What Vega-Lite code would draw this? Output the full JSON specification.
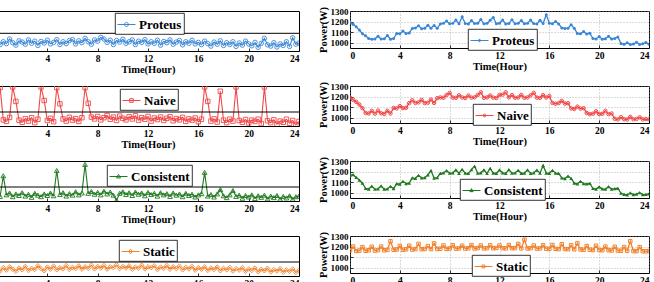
{
  "$schema": "https://vega.github.io/schema/vega-lite/v6.json",
  "padding": {"left": -4, "top": 5, "right": 0, "bottom": 0},
  "background": "white",
  "data": {"values": [
    {"t":0,"pr":1195,"nr":1190,"cr":1165,"sr":1165,"pl":1240,"nl":1150,"cl":1120,"sl":1130},
    {"t":0.25,"pr":1175,"nr":1170,"cr":1170,"sr":1200,"pl":1110,"nl":2150,"cl":1050,"sl":1060},
    {"t":0.5,"pr":1150,"nr":1150,"cr":1145,"sr":1158,"pl":1200,"nl":1100,"cl":1720,"sl":1170},
    {"t":0.75,"pr":1120,"nr":1125,"cr":1120,"sr":1162,"pl":1140,"nl":1050,"cl":1100,"sl":1090},
    {"t":1,"pr":1085,"nr":1090,"cr":1090,"sr":1195,"pl":1290,"nl":1180,"cl":1160,"sl":1200},
    {"t":1.25,"pr":1065,"nr":1045,"cr":1040,"sr":1160,"pl":1170,"nl":2170,"cl":1040,"sl":1120},
    {"t":1.5,"pr":1040,"nr":1040,"cr":1035,"sr":1165,"pl":1090,"nl":1700,"cl":1130,"sl":1050},
    {"t":1.75,"pr":1032,"nr":1065,"cr":1062,"sr":1198,"pl":1230,"nl":1090,"cl":1080,"sl":1160},
    {"t":2,"pr":1036,"nr":1038,"cr":1034,"sr":1162,"pl":1190,"nl":1020,"cl":1170,"sl":1100},
    {"t":2.25,"pr":1062,"nr":1068,"cr":1037,"sr":1166,"pl":1120,"nl":1140,"cl":1060,"sl":1210},
    {"t":2.5,"pr":1034,"nr":1042,"cr":1065,"sr":1200,"pl":1260,"nl":1060,"cl":1120,"sl":1080},
    {"t":2.75,"pr":1038,"nr":1036,"cr":1033,"sr":1165,"pl":1150,"nl":1170,"cl":1020,"sl":1150},
    {"t":3,"pr":1068,"nr":1066,"cr":1036,"sr":1168,"pl":1220,"nl":1010,"cl":1150,"sl":1110},
    {"t":3.25,"pr":1033,"nr":1040,"cr":1060,"sr":1250,"pl":1080,"nl":1120,"cl":1090,"sl":1230},
    {"t":3.5,"pr":1040,"nr":1092,"cr":1038,"sr":1170,"pl":1210,"nl":2170,"cl":1040,"sl":1140},
    {"t":3.75,"pr":1088,"nr":1088,"cr":1085,"sr":1172,"pl":1160,"nl":1730,"cl":1130,"sl":1070},
    {"t":4,"pr":1085,"nr":1110,"cr":1082,"sr":1205,"pl":1250,"nl":1080,"cl":1080,"sl":1190},
    {"t":4.25,"pr":1110,"nr":1090,"cr":1108,"sr":1170,"pl":1130,"nl":1150,"cl":1160,"sl":1120},
    {"t":4.5,"pr":1087,"nr":1094,"cr":1086,"sr":1174,"pl":1180,"nl":1040,"cl":1070,"sl":1220},
    {"t":4.75,"pr":1092,"nr":1138,"cr":1090,"sr":1208,"pl":1270,"nl":2150,"cl":1890,"sl":1100},
    {"t":5,"pr":1135,"nr":1165,"cr":1140,"sr":1172,"pl":1110,"nl":1620,"cl":1110,"sl":1170},
    {"t":5.25,"pr":1140,"nr":1140,"cr":1136,"sr":1176,"pl":1200,"nl":1130,"cl":1170,"sl":1130},
    {"t":5.5,"pr":1160,"nr":1145,"cr":1165,"sr":1225,"pl":1140,"nl":1060,"cl":1060,"sl":1240},
    {"t":5.75,"pr":1133,"nr":1168,"cr":1140,"sr":1175,"pl":1240,"nl":1180,"cl":1140,"sl":1110},
    {"t":6,"pr":1137,"nr":1138,"cr":1142,"sr":1178,"pl":1270,"nl":1090,"cl":1090,"sl":1180},
    {"t":6.25,"pr":1165,"nr":1142,"cr":1168,"sr":1205,"pl":1130,"nl":1140,"cl":1200,"sl":1140},
    {"t":6.5,"pr":1138,"nr":1172,"cr":1210,"sr":1176,"pl":1230,"nl":1050,"cl":1100,"sl":1230},
    {"t":6.75,"pr":1162,"nr":1140,"cr":1138,"sr":1230,"pl":1170,"nl":1170,"cl":1160,"sl":1120},
    {"t":7,"pr":1136,"nr":1185,"cr":1142,"sr":1178,"pl":1310,"nl":2150,"cl":2090,"sl":1200},
    {"t":7.25,"pr":1178,"nr":1192,"cr":1183,"sr":1180,"pl":1200,"nl":1640,"cl":1150,"sl":1150},
    {"t":7.5,"pr":1184,"nr":1188,"cr":1187,"sr":1210,"pl":1120,"nl":1190,"cl":1210,"sl":1250},
    {"t":7.75,"pr":1205,"nr":1215,"cr":1210,"sr":1178,"pl":1260,"nl":1130,"cl":1120,"sl":1130},
    {"t":8,"pr":1180,"nr":1235,"cr":1185,"sr":1182,"pl":1220,"nl":1210,"cl":1180,"sl":1210},
    {"t":8.25,"pr":1183,"nr":1190,"cr":1188,"sr":1212,"pl":1340,"nl":1100,"cl":1100,"sl":1160},
    {"t":8.5,"pr":1215,"nr":1188,"cr":1215,"sr":1180,"pl":1290,"nl":1170,"cl":1220,"sl":1240},
    {"t":8.75,"pr":1179,"nr":1212,"cr":1184,"sr":1183,"pl":1180,"nl":1240,"cl":1130,"sl":1120},
    {"t":9,"pr":1245,"nr":1192,"cr":1220,"sr":1208,"pl":1250,"nl":1120,"cl":1190,"sl":1200},
    {"t":9.25,"pr":1182,"nr":1186,"cr":1186,"sr":1181,"pl":1110,"nl":1190,"cl":1090,"sl":1170},
    {"t":9.5,"pr":1178,"nr":1210,"cr":1183,"sr":1184,"pl":1240,"nl":1080,"cl":925,"sl":1260},
    {"t":9.75,"pr":1210,"nr":1190,"cr":1218,"sr":1215,"pl":1190,"nl":1220,"cl":1150,"sl":1140},
    {"t":10,"pr":1181,"nr":1193,"cr":1250,"sr":1182,"pl":1280,"nl":1150,"cl":1200,"sl":1210},
    {"t":10.25,"pr":1184,"nr":1215,"cr":1185,"sr":1186,"pl":1150,"nl":1100,"cl":1110,"sl":1160},
    {"t":10.5,"pr":1220,"nr":1240,"cr":1188,"sr":1210,"pl":1200,"nl":1200,"cl":1170,"sl":1230},
    {"t":10.75,"pr":1179,"nr":1188,"cr":1215,"sr":1183,"pl":1260,"nl":1130,"cl":1080,"sl":1120},
    {"t":11,"pr":1183,"nr":1192,"cr":1183,"sr":1185,"pl":1110,"nl":1230,"cl":1190,"sl":1190},
    {"t":11.25,"pr":1212,"nr":1210,"cr":1230,"sr":1212,"pl":1220,"nl":1090,"cl":1120,"sl":1150},
    {"t":11.5,"pr":1238,"nr":1190,"cr":1186,"sr":1184,"pl":1180,"nl":1170,"cl":1160,"sl":1250},
    {"t":11.75,"pr":1180,"nr":1187,"cr":1184,"sr":1187,"pl":1270,"nl":1120,"cl":1070,"sl":1130},
    {"t":12,"pr":1184,"nr":1215,"cr":1215,"sr":1210,"pl":1130,"nl":1210,"cl":1180,"sl":1200},
    {"t":12.25,"pr":1215,"nr":1218,"cr":1188,"sr":1185,"pl":1200,"nl":1060,"cl":1110,"sl":1170},
    {"t":12.5,"pr":1178,"nr":1240,"cr":1183,"sr":1183,"pl":1150,"nl":1160,"cl":1150,"sl":1230},
    {"t":12.75,"pr":1182,"nr":1192,"cr":1218,"sr":1215,"pl":1250,"nl":1110,"cl":1060,"sl":1110},
    {"t":13,"pr":1218,"nr":1214,"cr":1185,"sr":1184,"pl":1090,"nl":1190,"cl":1170,"sl":1190},
    {"t":13.25,"pr":1180,"nr":1189,"cr":1187,"sr":1186,"pl":1210,"nl":1080,"cl":1100,"sl":1150},
    {"t":13.5,"pr":1183,"nr":1191,"cr":1212,"sr":1225,"pl":1170,"nl":1150,"cl":1140,"sl":1240},
    {"t":13.75,"pr":1210,"nr":1216,"cr":1184,"sr":1183,"pl":1260,"nl":1200,"cl":1050,"sl":1120},
    {"t":14,"pr":1179,"nr":1188,"cr":1186,"sr":1265,"pl":1120,"nl":1070,"cl":1160,"sl":1200},
    {"t":14.25,"pr":1185,"nr":1192,"cr":1216,"sr":1182,"pl":1190,"nl":1140,"cl":1090,"sl":1140},
    {"t":14.5,"pr":1215,"nr":1212,"cr":1183,"sr":1185,"pl":1240,"nl":1100,"cl":1130,"sl":1220},
    {"t":14.75,"pr":1181,"nr":1235,"cr":1188,"sr":1210,"pl":1100,"nl":1180,"cl":1040,"sl":1100},
    {"t":15,"pr":1178,"nr":1190,"cr":1214,"sr":1181,"pl":1200,"nl":1050,"cl":1150,"sl":1180},
    {"t":15.25,"pr":1212,"nr":1188,"cr":1185,"sr":1183,"pl":1150,"nl":1130,"cl":1080,"sl":1130},
    {"t":15.5,"pr":1182,"nr":1213,"cr":1258,"sr":1212,"pl":1250,"nl":1090,"cl":1120,"sl":1210},
    {"t":15.75,"pr":1265,"nr":1191,"cr":1186,"sr":1180,"pl":1130,"nl":1160,"cl":1030,"sl":1090},
    {"t":16,"pr":1184,"nr":1205,"cr":1184,"sr":1178,"pl":1180,"nl":1040,"cl":1100,"sl":1170},
    {"t":16.25,"pr":1180,"nr":1140,"cr":1212,"sr":1215,"pl":1110,"nl":1120,"cl":1140,"sl":1120},
    {"t":16.5,"pr":1200,"nr":1132,"cr":1185,"sr":1179,"pl":1220,"nl":2170,"cl":1830,"sl":1200},
    {"t":16.75,"pr":1178,"nr":1138,"cr":1182,"sr":1176,"pl":1140,"nl":1700,"cl":1060,"sl":1080},
    {"t":17,"pr":1140,"nr":1160,"cr":1140,"sr":1222,"pl":1060,"nl":1060,"cl":1110,"sl":1160},
    {"t":17.25,"pr":1135,"nr":1134,"cr":1134,"sr":1177,"pl":1190,"nl":1130,"cl":1030,"sl":1110},
    {"t":17.5,"pr":1138,"nr":1137,"cr":1158,"sr":1175,"pl":1120,"nl":1030,"cl":1130,"sl":1190},
    {"t":17.75,"pr":1170,"nr":1088,"cr":1136,"sr":1212,"pl":1230,"nl":2030,"cl":1270,"sl":1070},
    {"t":18,"pr":1136,"nr":1083,"cr":1090,"sr":1174,"pl":1080,"nl":1090,"cl":1070,"sl":1150},
    {"t":18.25,"pr":1088,"nr":1105,"cr":1084,"sr":1230,"pl":1170,"nl":1010,"cl":1010,"sl":1100},
    {"t":18.5,"pr":1085,"nr":1086,"cr":1108,"sr":1173,"pl":1110,"nl":1120,"cl":1100,"sl":1180},
    {"t":18.75,"pr":1105,"nr":1090,"cr":1086,"sr":1170,"pl":1200,"nl":1060,"cl":1240,"sl":1060},
    {"t":19,"pr":1083,"nr":1045,"cr":1083,"sr":1205,"pl":1050,"nl":2170,"cl":1050,"sl":1140},
    {"t":19.25,"pr":1090,"nr":1033,"cr":1088,"sr":1171,"pl":1160,"nl":1080,"cl":1090,"sl":1090},
    {"t":19.5,"pr":1040,"nr":1038,"cr":1040,"sr":1168,"pl":1090,"nl":1020,"cl":990,"sl":1170},
    {"t":19.75,"pr":1036,"nr":1060,"cr":1034,"sr":1208,"pl":1220,"nl":1110,"cl":1080,"sl":1050},
    {"t":20,"pr":1058,"nr":1035,"cr":1055,"sr":1168,"pl":1130,"nl":1000,"cl":1030,"sl":1130},
    {"t":20.25,"pr":1033,"nr":1037,"cr":1036,"sr":1165,"pl":1070,"nl":1090,"cl":1100,"sl":1080},
    {"t":20.5,"pr":1038,"nr":1065,"cr":1033,"sr":1200,"pl":1180,"nl":1050,"cl":980,"sl":1160},
    {"t":20.75,"pr":1062,"nr":1034,"cr":1058,"sr":1166,"pl":1020,"nl":1120,"cl":1070,"sl":1040},
    {"t":21,"pr":1035,"nr":1040,"cr":1035,"sr":1163,"pl":1150,"nl":980,"cl":1020,"sl":1120},
    {"t":21.25,"pr":1040,"nr":990,"cr":1038,"sr":1198,"pl":1310,"nl":2170,"cl":1090,"sl":1070},
    {"t":21.5,"pr":1055,"nr":984,"cr":1042,"sr":1162,"pl":1100,"nl":1070,"cl":970,"sl":1150},
    {"t":21.75,"pr":992,"nr":1005,"cr":995,"sr":1160,"pl":1060,"nl":1010,"cl":1060,"sl":1030},
    {"t":22,"pr":985,"nr":986,"cr":985,"sr":1195,"pl":1170,"nl":1100,"cl":1010,"sl":1110},
    {"t":22.25,"pr":1000,"nr":983,"cr":980,"sr":1160,"pl":1030,"nl":960,"cl":1080,"sl":1060},
    {"t":22.5,"pr":983,"nr":1008,"cr":998,"sr":1250,"pl":1130,"nl":1060,"cl":960,"sl":1140},
    {"t":22.75,"pr":988,"nr":985,"cr":983,"sr":1158,"pl":1080,"nl":1020,"cl":1050,"sl":1020},
    {"t":23,"pr":1005,"nr":988,"cr":986,"sr":1157,"pl":1200,"nl":1120,"cl":1000,"sl":1100},
    {"t":23.25,"pr":984,"nr":1004,"cr":1000,"sr":1195,"pl":1050,"nl":990,"cl":1070,"sl":1050},
    {"t":23.5,"pr":990,"nr":984,"cr":982,"sr":1156,"pl":1330,"nl":1080,"cl":960,"sl":1130},
    {"t":23.75,"pr":1002,"nr":987,"cr":984,"sr":1155,"pl":1120,"nl":940,"cl":1040,"sl":1010},
    {"t":24,"pr":986,"nr":985,"cr":990,"sr":1158,"pl":1160,"nl":1050,"cl":1060,"sl":1090}
  ]},
  "bounds": "flush",
  "columns": 2,
  "spacing": {"row": 35, "column": 51},
  "resolve": {"scale": {"color": "independent", "x": "independent", "y": "independent"}, "legend": {"color": "independent"}},
  "concat": [
    {
      "width": 302, "height": 40,
      "layer": [
        {"mark": {"type": "line", "strokeWidth": 1.1, "clip": true},
         "encoding": {
           "x": {"field": "t", "type": "quantitative", "scale": {"domain": [0, 24], "nice": false}, "axis": {"values": [4, 8, 12, 16, 20, 24], "tickCount": 7, "title": "Time(Hour)"}},
           "y": {"field": "pl", "type": "quantitative", "scale": {"domain": [900, 2200], "nice": false, "zero": false}, "axis": null},
           "color": {"datum": "Proteus", "scale": {"range": ["#3a86d6"]},
             "legend": {"legendX": 118, "legendY": 2, "symbolType": "M-1,0H1M-0.22,0A0.22,0.22,0,1,0,0.22,0A0.22,0.22,0,1,0,-0.22,0", "symbolFillColor": "transparent"}}}},
        {"mark": {"type": "point", "shape": "circle", "filled": false, "size": 20, "strokeWidth": 0.9, "color": "#3a86d6", "opacity": 1, "clip": true},
         "encoding": {"x": {"field": "t", "type": "quantitative"}, "y": {"field": "pl", "type": "quantitative"}}},
        {"data": {"values": [{"cap": 1475}]},
         "mark": {"type": "rule", "color": "black", "strokeWidth": 1},
         "encoding": {"x": {"datum": 0}, "x2": {"datum": 24}, "y": {"field": "cap", "type": "quantitative"}}}
      ]
    },
    {
      "width": 299, "height": 37,
      "layer": [
        {"mark": {"type": "line", "strokeWidth": 1.3, "clip": true},
         "encoding": {
           "x": {"field": "t", "type": "quantitative", "scale": {"domain": [0, 24], "nice": false}, "axis": {"values": [0, 4, 8, 12, 16, 20, 24], "tickCount": 7, "title": "Time(Hour)", "grid": true}},
           "y": {"field": "pr", "type": "quantitative", "scale": {"domain": [950, 1300], "nice": false, "zero": false}, "axis": {"values": [1000, 1100, 1200, 1300], "tickCount": 4, "format": "d", "labelFontSize": 9, "title": "Power(W)", "grid": true}},
           "color": {"datum": "Proteus", "scale": {"range": ["#3a86d6"]},
             "legend": {"legendX": 118, "legendY": 18, "symbolType": "M-1,0H1M-0.12,0A0.12,0.12,0,1,0,0.12,0A0.12,0.12,0,1,0,-0.12,0", "symbolFillColor": "#3a86d6"}}}},
        {"mark": {"type": "point", "shape": "circle", "filled": true, "size": 9, "color": "#3a86d6", "opacity": 1, "clip": true},
         "encoding": {"x": {"field": "t", "type": "quantitative"}, "y": {"field": "pr", "type": "quantitative"}}}
      ]
    },
    {
      "width": 302, "height": 40,
      "layer": [
        {"mark": {"type": "line", "strokeWidth": 1.1, "clip": true},
         "encoding": {
           "x": {"field": "t", "type": "quantitative", "scale": {"domain": [0, 24], "nice": false}, "axis": {"values": [4, 8, 12, 16, 20, 24], "tickCount": 7, "title": "Time(Hour)"}},
           "y": {"field": "nl", "type": "quantitative", "scale": {"domain": [900, 2200], "nice": false, "zero": false}, "axis": null},
           "color": {"datum": "Naive", "scale": {"range": ["#f04848"]},
             "legend": {"legendX": 123, "legendY": 3, "symbolType": "M-1,0H1M-0.2,-0.2H0.2V0.2H-0.2Z", "symbolFillColor": "transparent"}}}},
        {"mark": {"type": "point", "shape": "square", "filled": false, "size": 20, "strokeWidth": 0.9, "color": "#f04848", "opacity": 1, "clip": true},
         "encoding": {"x": {"field": "t", "type": "quantitative"}, "y": {"field": "nl", "type": "quantitative"}}},
        {"data": {"values": [{"cap": 1355}]},
         "mark": {"type": "rule", "color": "black", "strokeWidth": 1},
         "encoding": {"x": {"datum": 0}, "x2": {"datum": 24}, "y": {"field": "cap", "type": "quantitative"}}}
      ]
    },
    {
      "width": 299, "height": 37,
      "layer": [
        {"mark": {"type": "line", "strokeWidth": 1.3, "clip": true},
         "encoding": {
           "x": {"field": "t", "type": "quantitative", "scale": {"domain": [0, 24], "nice": false}, "axis": {"values": [0, 4, 8, 12, 16, 20, 24], "tickCount": 7, "title": "Time(Hour)", "grid": true}},
           "y": {"field": "nr", "type": "quantitative", "scale": {"domain": [950, 1300], "nice": false, "zero": false}, "axis": {"values": [1000, 1100, 1200, 1300], "tickCount": 4, "format": "d", "labelFontSize": 9, "title": "Power(W)", "grid": true}},
           "color": {"datum": "Naive", "scale": {"range": ["#f04848"]},
             "legend": {"legendX": 123, "legendY": 18, "symbolType": "M-1,0H1M-0.16,0A0.16,0.16,0,1,0,0.16,0A0.16,0.16,0,1,0,-0.16,0", "symbolFillColor": "transparent"}}}},
        {"mark": {"type": "point", "shape": "circle", "filled": false, "size": 12, "strokeWidth": 1, "color": "#f04848", "opacity": 1, "clip": true},
         "encoding": {"x": {"field": "t", "type": "quantitative"}, "y": {"field": "nr", "type": "quantitative"}}}
      ]
    },
    {
      "width": 302, "height": 40,
      "layer": [
        {"mark": {"type": "line", "strokeWidth": 1.1, "clip": true},
         "encoding": {
           "x": {"field": "t", "type": "quantitative", "scale": {"domain": [0, 24], "nice": false}, "axis": {"values": [4, 8, 12, 16, 20, 24], "tickCount": 7, "title": "Time(Hour)"}},
           "y": {"field": "cl", "type": "quantitative", "scale": {"domain": [900, 2200], "nice": false, "zero": false}, "axis": null},
           "color": {"datum": "Consistent", "scale": {"range": ["#1e7a1e"]},
             "legend": {"legendX": 110, "legendY": 4, "symbolType": "M-1,0H1M0,-0.24L0.22,0.16H-0.22Z", "symbolFillColor": "transparent"}}}},
        {"mark": {"type": "point", "shape": "triangle-up", "filled": false, "size": 22, "strokeWidth": 0.9, "color": "#1e7a1e", "opacity": 1, "clip": true},
         "encoding": {"x": {"field": "t", "type": "quantitative"}, "y": {"field": "cl", "type": "quantitative"}}},
        {"data": {"values": [{"cap": 1355}]},
         "mark": {"type": "rule", "color": "black", "strokeWidth": 1},
         "encoding": {"x": {"datum": 0}, "x2": {"datum": 24}, "y": {"field": "cap", "type": "quantitative"}}}
      ]
    },
    {
      "width": 299, "height": 37,
      "layer": [
        {"mark": {"type": "line", "strokeWidth": 1.3, "clip": true},
         "encoding": {
           "x": {"field": "t", "type": "quantitative", "scale": {"domain": [0, 24], "nice": false}, "axis": {"values": [0, 4, 8, 12, 16, 20, 24], "tickCount": 7, "title": "Time(Hour)", "grid": true}},
           "y": {"field": "cr", "type": "quantitative", "scale": {"domain": [950, 1300], "nice": false, "zero": false}, "axis": {"values": [1000, 1100, 1200, 1300], "tickCount": 4, "format": "d", "labelFontSize": 9, "title": "Power(W)", "grid": true}},
           "color": {"datum": "Consistent", "scale": {"range": ["#1e7a1e"]},
             "legend": {"legendX": 110, "legendY": 18, "symbolType": "M-1,0H1M0,-0.2L0.18,0.13H-0.18Z", "symbolFillColor": "#1e7a1e"}}}},
        {"mark": {"type": "point", "shape": "triangle-up", "filled": true, "size": 14, "color": "#1e7a1e", "opacity": 1, "clip": true},
         "encoding": {"x": {"field": "t", "type": "quantitative"}, "y": {"field": "cr", "type": "quantitative"}}}
      ]
    },
    {
      "width": 302, "height": 40,
      "layer": [
        {"mark": {"type": "line", "strokeWidth": 1.1, "clip": true},
         "encoding": {
           "x": {"field": "t", "type": "quantitative", "scale": {"domain": [0, 24], "nice": false}, "axis": {"values": [4, 8, 12, 16, 20, 24], "tickCount": 7, "title": "Time(Hour)"}},
           "y": {"field": "sl", "type": "quantitative", "scale": {"domain": [900, 2200], "nice": false, "zero": false}, "axis": null},
           "color": {"datum": "Static", "scale": {"range": ["#f0822d"]},
             "legend": {"legendX": 122, "legendY": 4, "symbolType": "M-1,0H1M0,-0.26L0.2,0L0,0.26L-0.2,0Z", "symbolFillColor": "transparent"}}}},
        {"mark": {"type": "point", "shape": "diamond", "filled": false, "size": 20, "strokeWidth": 0.9, "color": "#f0822d", "opacity": 1, "clip": true},
         "encoding": {"x": {"field": "t", "type": "quantitative"}, "y": {"field": "sl", "type": "quantitative"}}},
        {"data": {"values": [{"cap": 1355}]},
         "mark": {"type": "rule", "color": "black", "strokeWidth": 1},
         "encoding": {"x": {"datum": 0}, "x2": {"datum": 24}, "y": {"field": "cap", "type": "quantitative"}}}
      ]
    },
    {
      "width": 299, "height": 37,
      "layer": [
        {"mark": {"type": "line", "strokeWidth": 1.3, "clip": true},
         "encoding": {
           "x": {"field": "t", "type": "quantitative", "scale": {"domain": [0, 24], "nice": false}, "axis": {"values": [0, 4, 8, 12, 16, 20, 24], "tickCount": 7, "title": "Time(Hour)", "grid": true}},
           "y": {"field": "sr", "type": "quantitative", "scale": {"domain": [950, 1300], "nice": false, "zero": false}, "axis": {"values": [1000, 1100, 1200, 1300], "tickCount": 4, "format": "d", "labelFontSize": 9, "title": "Power(W)", "grid": true}},
           "color": {"datum": "Static", "scale": {"range": ["#f0822d"]},
             "legend": {"legendX": 122, "legendY": 19, "symbolType": "M-1,0H1M-0.16,-0.16H0.16V0.16H-0.16Z", "symbolFillColor": "transparent"}}}},
        {"mark": {"type": "point", "shape": "square", "filled": false, "size": 12, "strokeWidth": 1, "color": "#f0822d", "opacity": 1, "clip": true},
         "encoding": {"x": {"field": "t", "type": "quantitative"}, "y": {"field": "sr", "type": "quantitative"}}}
      ]
    }
  ],
  "config": {
    "view": {"stroke": "black", "strokeWidth": 1},
    "axis": {
      "domain": false, "grid": false, "labelOverlap": false,
      "labelFont": "Liberation Serif", "labelFontWeight": "bold", "labelFontSize": 9.5, "labelColor": "black",
      "titleFont": "Liberation Serif", "titleFontWeight": "bold", "titleFontSize": 10.5, "titleColor": "black",
      "tickColor": "black", "tickSize": -3, "tickWidth": 0.8, "labelPadding": 5, "titlePadding": 2,
      "gridColor": "#999999", "gridDash": [1, 2], "gridWidth": 0.7
    },
    "legend": {
      "orient": "none", "title": null,
      "fillColor": "white", "strokeColor": "black", "strokeWidth": 0.8, "padding": 2,
      "labelFont": "Liberation Serif", "labelFontWeight": "bold", "labelFontSize": 13, "labelColor": "black",
      "labelOffset": 3, "symbolSize": 324, "symbolStrokeWidth": 1
    }
  }
}
